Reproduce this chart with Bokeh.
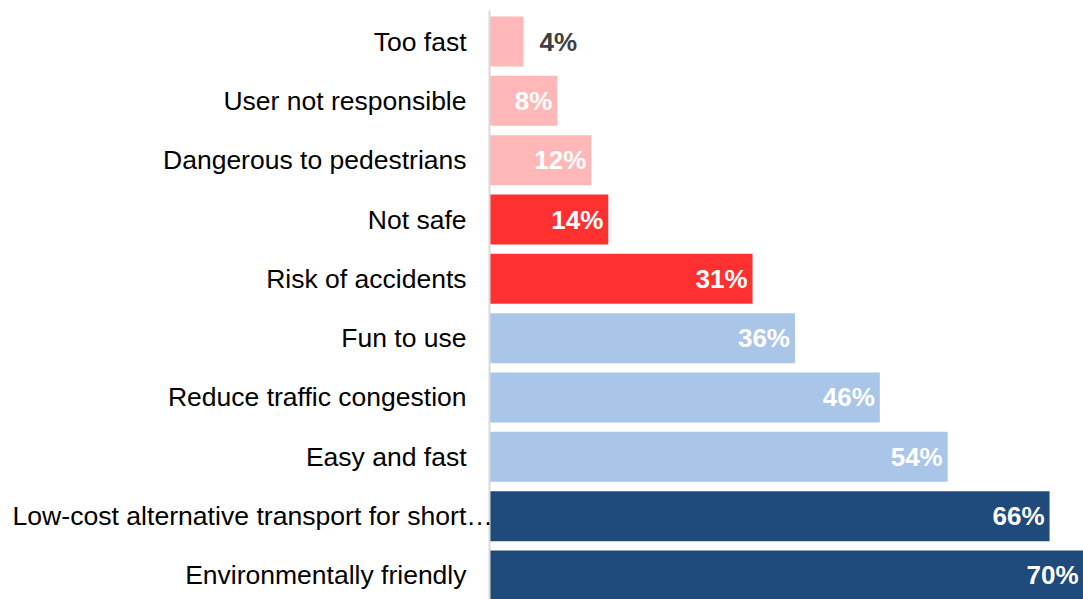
from bokeh.plotting import figure
from bokeh.models import ColumnDataSource, Range1d
from bokeh.core.properties import value
from bokeh.embed import file_html
from bokeh.resources import INLINE

# ---- data (top to bottom) ----
categories = [
    "Too fast",
    "User not responsible",
    "Dangerous to pedestrians",
    "Not safe",
    "Risk of accidents",
    "Fun to use",
    "Reduce traffic congestion",
    "Easy and fast",
    "Low-cost alternative transport for short\u2026",
    "Environmentally friendly",
]
values = [4, 8, 12, 14, 31, 36, 46, 54, 66, 70]
groups = ["minor_neg", "minor_neg", "minor_neg", "neg", "neg",
          "pos", "pos", "pos", "top_pos", "top_pos"]

group_colors = {
    "minor_neg": "#FFB7B7",
    "neg": "#FF3030",
    "pos": "#A9C6E9",
    "top_pos": "#1F4A7C",
}

n = len(categories)
ys = [n - 1 - i for i in range(n)]
colors = [group_colors[g] for g in groups]
labels = [f"{v}%" for v in values]

W, H = 1083, 599
axis_px = 489            # x position of value 0 inside the figure
px_per_unit = (W - axis_px) / 70.0
row_px = 59.33
top_px, bottom_px = 41, 24

p = figure(width=W, height=H, output_backend="svg", toolbar_location=None,
           x_range=Range1d(-axis_px / px_per_unit, (W - axis_px) / px_per_unit),
           y_range=Range1d(-bottom_px / row_px, (n - 1) + top_px / row_px),
           min_border=0, outline_line_color=None)
p.axis.visible = False
p.grid.visible = False
p.background_fill_color = "white"
p.border_fill_color = "white"

src = ColumnDataSource(dict(y=ys, v=values, c=colors, cat=categories, lab=labels))
p.hbar(y="y", left=0, right="v", height=0.843, fill_color="c", line_color="c",
       line_width=0, source=src)

# axis line
p.segment(x0=[0], y0=[-1], x1=[0], y1=[(n - 1) + 31 / row_px],
          line_color="#D9D9D9", line_width=2)

# category labels
short_idx = [i for i, c in enumerate(categories) if len(c) < 40]
long_idx = [i for i, c in enumerate(categories) if len(c) >= 40]
src_cat = ColumnDataSource(dict(y=[ys[i] for i in short_idx],
                                t=[categories[i] for i in short_idx]))
p.text(x=0, y="y", text="t", source=src_cat, x_offset=-23,
       text_align="right", text_baseline="middle",
       text_font=value("Liberation Sans"), text_font_size="26.5px",
       text_color="#000000")
src_long = ColumnDataSource(dict(y=[ys[i] for i in long_idx],
                                 t=[categories[i] for i in long_idx]))
p.text(x=-axis_px / px_per_unit, y="y", text="t", source=src_long, x_offset=12,
       text_align="left", text_baseline="middle",
       text_font=value("Liberation Sans"), text_font_size="26.6px",
       text_color="#000000")

# value labels
inside = [i for i, v in enumerate(values) if v >= 8]
outside = [i for i, v in enumerate(values) if v < 8]
src_in = ColumnDataSource(dict(y=[ys[i] for i in inside], x=[values[i] for i in inside],
                               t=[labels[i] for i in inside]))
p.text(x="x", y="y", text="t", source=src_in, x_offset=-5,
       text_align="right", text_baseline="middle",
       text_font=value("Liberation Sans"), text_font_size="26px",
       text_font_style="bold", text_color="white")
src_out = ColumnDataSource(dict(y=[ys[i] for i in outside], x=[values[i] for i in outside],
                                t=[labels[i] for i in outside]))
p.text(x="x", y="y", text="t", source=src_out, x_offset=16,
       text_align="left", text_baseline="middle",
       text_font=value("Liberation Sans"), text_font_size="26px",
       text_font_style="bold", text_color="#404040")

open("out.html", "w").write(file_html(p, INLINE))
